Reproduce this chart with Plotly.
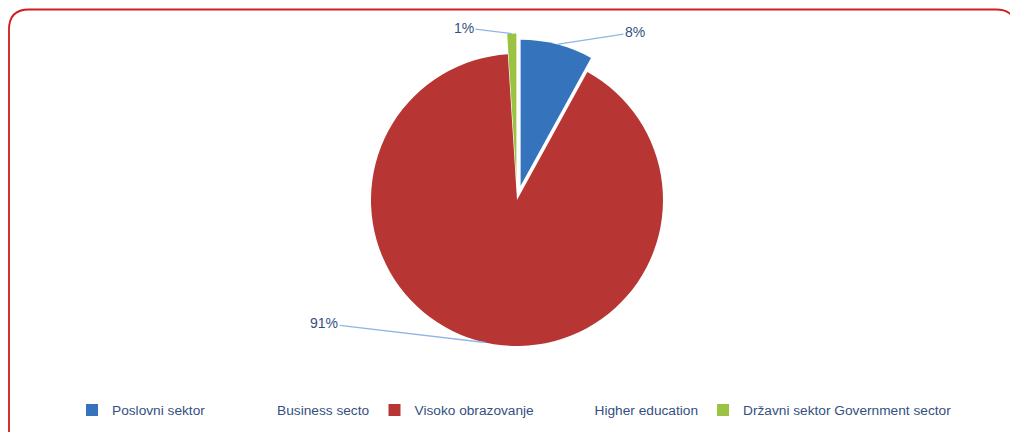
import math
import plotly.graph_objects as go

# ---- data ----
labels_sr = ["Poslovni sektor", "Visoko obrazovanje", "Državni sektor"]
labels_en = ["Business secto", "Higher education", "Government sector"]
shares = [8, 91, 1]
pct_text = ["8%", "91%", "1%"]

# ---- styling ----
colors = ["#3673bd", "#b73532", "#9bc243"]
pulls = [0.10, 0.0, 0.14]
label_offsets = [(78, -12), (-161, -19), (-48, -6)]  # label centre offset (px) from slice edge
legend_gaps = [19, 16, 1]  # spacing (nbsp) between the two language parts

PAGE_OFF = 8                 # default page body margin
W, H = 1018 - PAGE_OFF, 432 - PAGE_OFF
CX, CY, R = 517 - PAGE_OFF, 200 - PAGE_OFF, 146  # pie centre / radius in figure px
max_pull = max(pulls)
half_box = R * (1 + max_pull)
dom_x = [(CX - 220) / W, (CX + 220) / W]
dom_y = [1 - (CY + half_box) / H, 1 - (CY - half_box) / H]

text_col = "#34507f"
legend_labels = [s + "\u00a0" * g + e for s, e, g in zip(labels_sr, labels_en, legend_gaps)]

fig = go.Figure(go.Pie(
    labels=legend_labels,
    values=shares,
    sort=False,
    direction="clockwise",
    rotation=0,
    pull=pulls,
    marker=dict(colors=colors, line=dict(width=0)),
    textinfo="none",
    hoverinfo="label+percent",
    domain=dict(x=dom_x, y=dom_y),
))

# leader-line labels computed from slice angles
total = sum(shares)
cum = 0
annotations = []
for v, t, p, (ax, ay) in zip(shares, pct_text, pulls, label_offsets):
    mid = (cum + v / 2) / total * 2 * math.pi
    cum += v
    rr = R * (1 + p)
    px = CX + rr * math.sin(mid)
    py = CY - rr * math.cos(mid)
    annotations.append(dict(
        x=px / W, y=1 - py / H, xref="paper", yref="paper",
        text=t, showarrow=True, arrowhead=0, arrowwidth=1.3,
        arrowcolor="#8fb6e6", ax=ax, ay=ay, standoff=0,
        font=dict(size=14, color=text_col, family="Liberation Sans, Arial"),
    ))

# rounded red frame
x0, x1 = 1 / W, 1008 / W
yt = 1 - 1.5 / H
rx, ry = 20 / W, 20 / H
frame = (f"M {x0},-0.05 L {x0},{yt - ry} Q {x0},{yt} {x0 + rx},{yt} "
         f"L {x1 - rx},{yt} Q {x1},{yt} {x1},{yt - ry} L {x1},-0.05")

fig.update_layout(
    width=W, height=H, autosize=False,
    margin=dict(l=0, r=0, t=0, b=0),
    paper_bgcolor="white", plot_bgcolor="white",
    font=dict(family="Liberation Sans, Arial", color=text_col),
    showlegend=True,
    legend=dict(
        orientation="h", x=(72 - PAGE_OFF) / W, xanchor="left",
        y=1 - (410 - PAGE_OFF) / H, yanchor="middle",
        font=dict(size=13.7, color=text_col, family="Liberation Sans, Arial"),
        bgcolor="rgba(0,0,0,0)", itemclick=False,
    ),
    annotations=annotations,
    shapes=[dict(type="path", path=frame, xref="paper", yref="paper",
                 line=dict(color="#d01c1c", width=1.8), layer="above")],
)

fig.write_html("out.html")
